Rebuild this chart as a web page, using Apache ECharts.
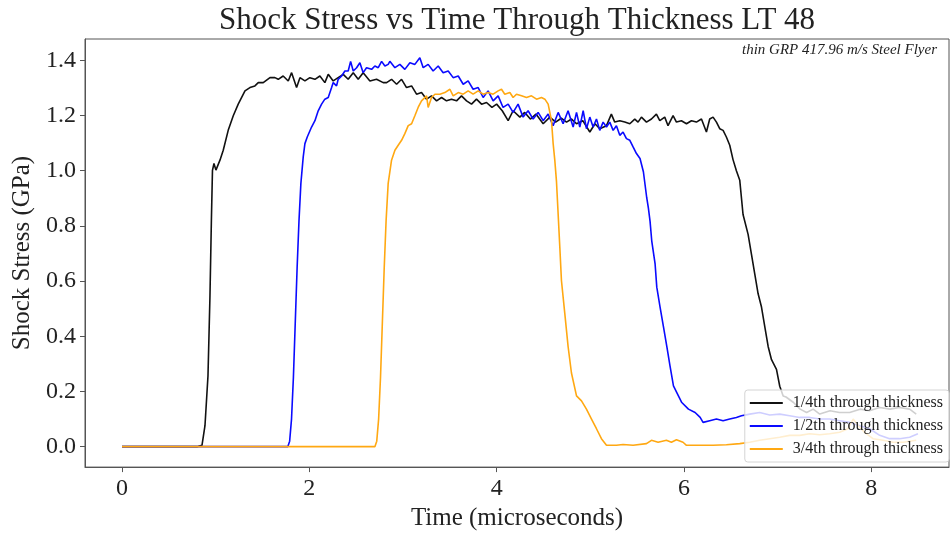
<!DOCTYPE html>
<html>
<head>
<meta charset="utf-8">
<script src="https://cdn.jsdelivr.net/npm/echarts@6/dist/echarts.min.js"></script>
<style>html,body{margin:0;padding:0;background:#fff;}#chart{width:951px;height:536px;}</style>
</head>
<body>
<div id="chart"></div>
<script>
const titleText = 'Shock Stress vs Time Through Thickness LT 48';
const noteText = 'thin GRP 417.96 m/s Steel Flyer';
const xAxisName = 'Time (microseconds)';
const yAxisName = 'Shock Stress (GPa)';
const xTicks = [0, 2, 4, 6, 8];
const yTicks = [0, 0.2, 0.4, 0.6, 0.8, 1.0, 1.2, 1.4];
const seriesNames = ['1/4th through thickness', '1/2th through thickness', '3/4th through thickness'];
const seriesColors = ['#111111', '#0a0aff', '#ffa812'];

const quarterData = [[0,0],[0.80,0],[0.854,0.005],[0.886,0.076],[0.918,0.256],[0.939,0.542],[0.955,0.829],[0.966,1.001],[0.982,1.026],[1.003,1.002],[1.046,1.038],[1.081,1.074],[1.134,1.146],[1.188,1.199],[1.241,1.241],[1.313,1.289],[1.366,1.301],[1.419,1.307],[1.455,1.319],[1.508,1.319],[1.580,1.337],[1.633,1.337],[1.668,1.331],[1.721,1.343],[1.775,1.325],[1.811,1.355],[1.864,1.301],[1.900,1.337],[1.953,1.325],[2.006,1.337],[2.060,1.331],[2.113,1.343],[2.166,1.319],[2.202,1.349],[2.255,1.325],[2.308,1.337],[2.362,1.349],[2.415,1.331],[2.469,1.355],[2.522,1.331],[2.575,1.355],[2.647,1.325],[2.718,1.331],[2.789,1.319],[2.825,1.319],[2.878,1.331],[2.932,1.313],[2.985,1.331],[3.038,1.301],[3.092,1.307],[3.145,1.277],[3.198,1.283],[3.252,1.259],[3.305,1.271],[3.359,1.253],[3.412,1.265],[3.465,1.253],[3.518,1.259],[3.572,1.253],[3.625,1.271],[3.679,1.253],[3.732,1.241],[3.785,1.259],[3.839,1.241],[3.892,1.247],[3.95,1.229],[4.00,1.241],[4.06,1.217],[4.123,1.181],[4.176,1.217],[4.248,1.194],[4.30,1.211],[4.36,1.187],[4.42,1.205],[4.497,1.170],[4.568,1.194],[4.63,1.176],[4.69,1.190],[4.746,1.176],[4.80,1.187],[4.853,1.170],[4.92,1.181],[4.995,1.140],[5.05,1.170],[5.101,1.152],[5.173,1.163],[5.225,1.205],[5.261,1.176],[5.315,1.181],[5.368,1.176],[5.422,1.170],[5.475,1.187],[5.510,1.176],[5.546,1.194],[5.600,1.176],[5.653,1.187],[5.706,1.205],[5.742,1.181],[5.795,1.194],[5.830,1.163],[5.884,1.199],[5.920,1.176],[5.973,1.181],[6.027,1.170],[6.080,1.181],[6.133,1.176],[6.187,1.187],[6.240,1.140],[6.275,1.187],[6.311,1.194],[6.347,1.176],[6.382,1.152],[6.418,1.146],[6.453,1.122],[6.489,1.092],[6.524,1.040],[6.560,1.000],[6.596,0.965],[6.631,0.841],[6.685,0.769],[6.721,0.697],[6.756,0.626],[6.792,0.554],[6.828,0.506],[6.863,0.435],[6.899,0.363],[6.935,0.315],[6.988,0.280],[7.023,0.219],[7.059,0.184],[7.09,0.180],[7.17,0.160],[7.24,0.136],[7.31,0.124],[7.38,0.136],[7.45,0.118],[7.56,0.130],[7.66,0.124],[7.77,0.124],[7.88,0.136],[7.98,0.130],[8.09,0.142],[8.20,0.136],[8.30,0.142],[8.41,0.136],[8.48,0.118]];

const halfData = [[0,0],[1.77,0],[1.79,0.02],[1.81,0.10],[1.83,0.25],[1.85,0.45],[1.87,0.65],[1.89,0.82],[1.910,0.954],[1.935,1.050],[1.953,1.098],[1.978,1.122],[2.024,1.158],[2.060,1.181],[2.095,1.217],[2.131,1.241],[2.166,1.259],[2.202,1.265],[2.238,1.301],[2.255,1.319],[2.291,1.307],[2.308,1.331],[2.345,1.343],[2.380,1.361],[2.415,1.361],[2.441,1.396],[2.469,1.361],[2.505,1.373],[2.540,1.391],[2.575,1.355],[2.611,1.373],[2.665,1.367],[2.700,1.379],[2.736,1.373],[2.772,1.396],[2.807,1.379],[2.842,1.385],[2.860,1.396],[2.914,1.373],[2.967,1.385],[3.020,1.367],[3.074,1.391],[3.127,1.385],[3.180,1.409],[3.216,1.373],[3.269,1.385],[3.322,1.361],[3.376,1.379],[3.429,1.355],[3.483,1.361],[3.536,1.337],[3.590,1.343],[3.643,1.313],[3.696,1.325],[3.749,1.295],[3.803,1.301],[3.856,1.265],[3.909,1.289],[3.963,1.253],[4.016,1.271],[4.069,1.229],[4.123,1.241],[4.176,1.211],[4.229,1.241],[4.283,1.194],[4.336,1.217],[4.390,1.187],[4.443,1.211],[4.497,1.181],[4.550,1.205],[4.603,1.163],[4.657,1.211],[4.710,1.170],[4.763,1.217],[4.817,1.158],[4.853,1.211],[4.888,1.158],[4.924,1.217],[4.959,1.152],[4.995,1.194],[5.030,1.158],[5.066,1.187],[5.101,1.146],[5.137,1.176],[5.173,1.158],[5.208,1.176],[5.244,1.146],[5.279,1.163],[5.315,1.128],[5.350,1.140],[5.386,1.116],[5.422,1.110],[5.457,1.086],[5.493,1.062],[5.531,1.044],[5.567,0.996],[5.603,0.901],[5.620,0.865],[5.638,0.817],[5.656,0.746],[5.692,0.662],[5.710,0.578],[5.745,0.506],[5.781,0.435],[5.817,0.363],[5.852,0.291],[5.888,0.220],[5.941,0.184],[5.977,0.160],[6.048,0.136],[6.119,0.124],[6.173,0.106],[6.204,0.088],[6.275,0.094],[6.347,0.100],[6.418,0.094],[6.489,0.100],[6.560,0.106],[6.614,0.112],[6.702,0.118],[6.809,0.124],[6.916,0.115],[7.023,0.118],[7.129,0.112],[7.236,0.106],[7.343,0.106],[7.449,0.100],[7.556,0.100],[7.663,0.094],[7.770,0.088],[7.876,0.076],[7.983,0.065],[8.090,0.041],[8.196,0.029],[8.303,0.029],[8.410,0.034],[8.498,0.047]];

const threeQuarterData = [[0,0],[2.70,0],[2.72,0.02],[2.74,0.10],[2.76,0.25],[2.78,0.45],[2.80,0.65],[2.82,0.82],[2.842,0.954],[2.878,1.038],[2.914,1.074],[2.949,1.092],[2.985,1.110],[3.020,1.134],[3.056,1.163],[3.092,1.170],[3.127,1.199],[3.162,1.229],[3.198,1.253],[3.252,1.271],[3.269,1.229],[3.305,1.265],[3.341,1.277],[3.394,1.277],[3.447,1.283],[3.501,1.295],[3.536,1.271],[3.590,1.283],[3.643,1.277],[3.696,1.289],[3.749,1.277],[3.803,1.289],[3.856,1.277],[3.909,1.283],[3.963,1.277],[4.016,1.289],[4.052,1.295],[4.087,1.277],[4.141,1.283],[4.176,1.265],[4.212,1.277],[4.266,1.271],[4.319,1.265],[4.372,1.271],[4.426,1.259],[4.479,1.265],[4.515,1.259],[4.550,1.241],[4.586,1.181],[4.603,1.100],[4.621,1.038],[4.639,0.961],[4.657,0.841],[4.675,0.721],[4.692,0.602],[4.728,0.482],[4.763,0.363],[4.799,0.267],[4.853,0.184],[4.906,0.166],[4.959,0.136],[5.013,0.100],[5.066,0.065],[5.119,0.029],[5.173,0.005],[5.279,0.005],[5.350,0.008],[5.457,0.005],[5.600,0.011],[5.653,0.023],[5.724,0.016],[5.813,0.023],[5.866,0.016],[5.920,0.025],[5.990,0.016],[6.027,0.005],[6.169,0.005],[6.311,0.005],[6.453,0.007],[6.596,0.011],[6.702,0.016],[6.809,0.023],[6.916,0.029],[7.023,0.034],[7.129,0.041],[7.236,0.041],[7.343,0.047],[7.449,0.043],[7.556,0.047],[7.663,0.052],[7.751,0.065],[7.807,0.100],[7.860,0.076],[7.929,0.052],[8.018,0.029],[8.125,0.023],[8.232,0.016],[8.339,0.016],[8.480,0.023]];

const seriesData = [quarterData, halfData, threeQuarterData];
const FONT = '"Liberation Serif", "DejaVu Serif", serif';
const TXT = '#222';

const chart = echarts.init(document.getElementById('chart'), null, {renderer: 'canvas'});
chart.setOption({
  animation: false,
  backgroundColor: '#ffffff',
  grid: {left: 85, right: 2, top: 39, bottom: 64, show: true, borderColor: '#555', borderWidth: 1, backgroundColor: 'transparent'},
  graphic: [
    {type: 'text', x: 517, y: 21, style: {text: titleText, font: '31px ' + FONT, fill: TXT, align: 'center', verticalAlign: 'middle'}},
    {type: 'text', x: 937, y: 50, z: 10, style: {text: noteText, font: 'italic 15px ' + FONT, fill: TXT, align: 'right', verticalAlign: 'middle'}}
  ],
  legend: {
    orient: 'vertical', right: 2, top: 390,
    data: seriesNames,
    icon: 'rect', itemWidth: 33, itemHeight: 2, itemGap: 7,
    padding: [5, 6, 5, 5],
    backgroundColor: 'rgba(255,255,255,0.8)', borderColor: '#d4d4d4', borderWidth: 1, borderRadius: 3,
    textStyle: {fontFamily: FONT, fontSize: 16, color: TXT, padding: [0, 0, 0, 5], lineHeight: 16}
  },
  xAxis: {
    type: 'value', min: -0.395, max: 8.83,
    name: xAxisName, nameLocation: 'middle', nameGap: 36,
    nameTextStyle: {fontFamily: FONT, fontSize: 25, color: TXT},
    axisLine: {show: true, onZero: false, lineStyle: {color: '#555', width: 1}},
    axisTick: {show: true, length: 5, lineStyle: {color: '#555'}, customValues: xTicks},
    axisLabel: {fontFamily: FONT, fontSize: 24, color: TXT, margin: 10, customValues: xTicks, formatter: v => String(v)},
    splitLine: {show: false}
  },
  yAxis: {
    type: 'value', min: -0.074, max: 1.477,
    name: yAxisName, nameLocation: 'middle', nameGap: 43,
    nameTextStyle: {fontFamily: FONT, fontSize: 25, color: TXT},
    axisLine: {show: true, onZero: false, lineStyle: {color: '#555', width: 1}},
    axisTick: {show: true, length: 5, lineStyle: {color: '#555'}, customValues: yTicks},
    axisLabel: {fontFamily: FONT, fontSize: 24, color: TXT, margin: 9, customValues: yTicks, formatter: v => v.toFixed(1)},
    splitLine: {show: false}
  },
  series: seriesNames.map((n, i) => ({
    name: n, type: 'line', data: seriesData[i], showSymbol: false, symbol: 'none',
    lineStyle: {color: seriesColors[i], width: 1.6}, itemStyle: {color: seriesColors[i]},
    clip: true
  }))
});
</script>
</body>
</html>
